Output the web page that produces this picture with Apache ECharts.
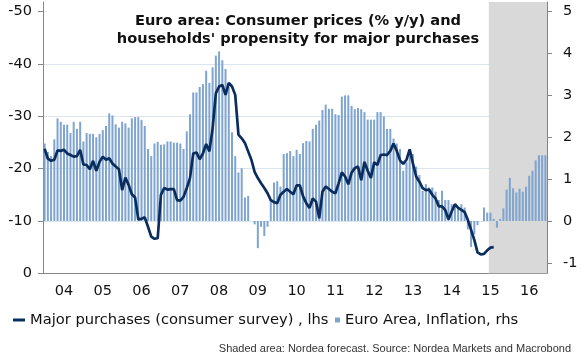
<!DOCTYPE html>
<html><head><meta charset="utf-8">
<script src="https://cdn.jsdelivr.net/npm/echarts@6/dist/echarts.min.js"></script>
<style>html,body{margin:0;padding:0;background:#fff}#c{width:588px;height:361px}</style>
</head><body><div id="c"></div>
<script>
// ---- data ----
const years = [2004,2005,2006,2007,2008,2009,2010,2011,2012,2013,2014,2015,2016];
const months = [];
years.forEach(y => { for (let m = 1; m <= 12; m++) months.push(y + '-' + (m < 10 ? '0' + m : m)); });

// Major purchases (consumer survey), lhs — Jan 2004 .. Aug 2015
const majorPurchases = [
  -23.8,-21.9,-21.5,-21.7,-23.5,-23.4,-23.6,-22.9,-22.6,-22.3,-22.4,-23.6,
  -20.8,-20.7,-19.9,-21.5,-19.6,-21.3,-22.3,-21.7,-22.0,-21.0,-20.4,-19.9,
  -15.9,-18.3,-16.9,-15.1,-14.5,-10.3,-10.4,-10.7,-8.9,-7.0,-6.6,-6.7,
  -15.0,-16.3,-16.0,-16.1,-16.1,-14.0,-13.9,-14.6,-16.3,-18.2,-22.9,-23.1,
  -21.8,-22.9,-24.7,-23.3,-27.7,-34.4,-35.7,-36.0,-34.1,-36.4,-35.7,-34.1,
  -26.5,-25.8,-24.9,-23.3,-21.7,-19.4,-18.2,-17.2,-16.3,-15.3,-14.0,-13.6,
  -13.4,-15.0,-15.6,-16.1,-15.6,-15.1,-16.8,-16.8,-14.7,-13.4,-12.5,-14.3,
  -13.7,-10.5,-15.6,-16.6,-16.1,-15.6,-15.3,-17.2,-19.3,-18.5,-17.0,-19.2,
  -20.1,-20.4,-17.8,-21.3,-19.6,-18.2,-21.2,-20.7,-22.6,-22.7,-22.6,-23.4,
  -24.8,-23.4,-21.6,-20.9,-21.7,-23.7,-21.0,-18.5,-17.5,-16.3,-15.9,-16.0,
  -15.0,-14.3,-12.8,-12.8,-12.1,-10.3,-11.8,-13.2,-12.5,-12.1,-11.7,-10.2,
  -8.3,-6.4,-4.0,-3.6,-3.7,-4.4,-4.9,-5.0
];

// Euro Area, Inflation (% y/y), rhs — Jan 2004 .. Dec 2016
const inflation = [
  1.85,1.65,1.55,1.95,2.45,2.37,2.3,2.3,2.1,2.37,2.2,2.37,
  1.9,2.1,2.08,2.08,2.0,2.08,2.17,2.27,2.57,2.52,2.31,2.23,
  2.37,2.33,2.23,2.45,2.48,2.48,2.41,2.27,1.72,1.55,1.85,1.89,
  1.82,1.83,1.9,1.9,1.87,1.87,1.85,1.72,2.14,2.55,3.07,3.07,
  3.2,3.27,3.59,3.3,3.67,3.95,4.05,3.84,3.63,3.2,2.12,1.55,
  1.16,1.26,0.56,0.6,0.0,-0.08,-0.65,-0.14,-0.36,-0.14,0.5,0.92,
  0.95,0.82,1.6,1.62,1.67,1.55,1.7,1.6,1.86,1.91,1.9,2.2,
  2.3,2.4,2.65,2.78,2.68,2.68,2.55,2.53,2.97,3.0,3.0,2.75,
  2.67,2.7,2.67,2.6,2.42,2.42,2.42,2.6,2.6,2.5,2.2,2.2,
  1.97,1.85,1.72,1.2,1.4,1.6,1.6,1.3,1.1,0.72,0.88,0.8,
  0.8,0.7,0.5,0.72,0.5,0.5,0.4,0.4,0.3,0.4,0.32,-0.2,
  -0.62,-0.32,-0.1,0.0,0.32,0.2,0.2,0.05,-0.16,0.05,0.3,0.75,
  1.03,0.78,0.68,0.77,0.7,0.82,1.08,1.2,1.45,1.57,1.57,1.57
];

const leftTicks = [-50,-40,-30,-20,-10,0];
const rightTicks = [-1,0,1,2,3,4,5];
const forecastStart = '2015-08';
const forecastEnd = '2016-12';

const nameLine = 'Major purchases (consumer survey) , lhs';
const nameBar = 'Euro Area, Inflation, rhs';
const titleText = "Euro area: Consumer prices (% y/y) and\nhouseholds' propensity for major purchases";
const sourceText = 'Shaded area: Nordea forecast. Source: Nordea Markets and Macrobond';

// ---- chart ----
const FONT = 'DejaVu Sans';
const axisGray = '#868686';
const lineColor = '#0b2d5e';
const barColor = '#7ea4cf';

const chart = echarts.init(document.getElementById('c'), null, {renderer: 'canvas'});
chart.setOption({
  animation: false,
  backgroundColor: '#ffffff',
  textStyle: {fontFamily: FONT},
  title: {
    text: titleText, left: 298, top: 11.5, textAlign: 'center', padding: 0,
    textStyle: {fontFamily: FONT, fontSize: 14.6, fontWeight: 'bold', color: '#111', lineHeight: 18.6}
  },
  grid: {left: 43, right: 41, top: 2, bottom: 87.7, containLabel: false},
  legend: [
    {data: [{name: nameLine, icon: 'rect'}], left: 13, top: 312.5, padding: 0, itemWidth: 12, itemHeight: 3,
     textStyle: {fontFamily: FONT, fontSize: 14.7, color: '#111'}, selectedMode: false},
    {data: [{name: nameBar, icon: 'rect'}], left: 335, top: 312.5, padding: 0, itemWidth: 5, itemHeight: 5,
     textStyle: {fontFamily: FONT, fontSize: 14.7, color: '#111'}, selectedMode: false}
  ],
  xAxis: {
    type: 'category', data: months, boundaryGap: true,
    axisLine: {onZero: false, lineStyle: {color: axisGray, width: 1}},
    axisTick: {interval: (i) => i % 12 === 0, length: 5, lineStyle: {color: axisGray}},
    axisLabel: {interval: (i) => i % 12 === 6, formatter: (v) => v.slice(2, 4),
      fontFamily: FONT, fontSize: 14.5, color: '#111', margin: 10},
    splitLine: {show: false}
  },
  yAxis: [
    {type: 'value', inverse: true, min: -51.85, max: 0, position: 'left',
     axisLine: {show: true, lineStyle: {color: axisGray}},
     axisTick: {show: true, length: 5, customValues: leftTicks, lineStyle: {color: axisGray}},
     axisLabel: {customValues: leftTicks, fontFamily: FONT, fontSize: 14.5, color: '#111', margin: 11},
     splitLine: {show: true, showMinLine: false, lineStyle: {color: '#dbe5ef', width: 1}}},
    {type: 'value', min: -1.25, max: 5.231, position: 'right',
     axisLine: {show: true, lineStyle: {color: axisGray}},
     axisTick: {show: true, length: 5, customValues: rightTicks, lineStyle: {color: axisGray}},
     axisLabel: {customValues: rightTicks, fontFamily: FONT, fontSize: 14.5, color: '#111', margin: 16},
     splitLine: {show: false}}
  ],
  series: [
    {name: nameBar, type: 'bar', yAxisIndex: 1, data: inflation, barWidth: 2,
     itemStyle: {color: barColor}, z: 2,
     markArea: {silent: true, itemStyle: {color: '#d9d9d9'},
       data: [[{xAxis: forecastStart}, {xAxis: forecastEnd}]]}},
    {name: nameLine, type: 'line', yAxisIndex: 0, data: majorPurchases, showSymbol: false,
     symbol: 'none', itemStyle: {color: lineColor}, lineStyle: {color: lineColor, width: 2.7}, z: 5}
  ],
  graphic: [
    {type: 'text', right: 17, top: 343, style: {text: sourceText, fontFamily: 'Liberation Sans',
      fontSize: 11, fill: '#333'}}
  ]
});
</script></body></html>
